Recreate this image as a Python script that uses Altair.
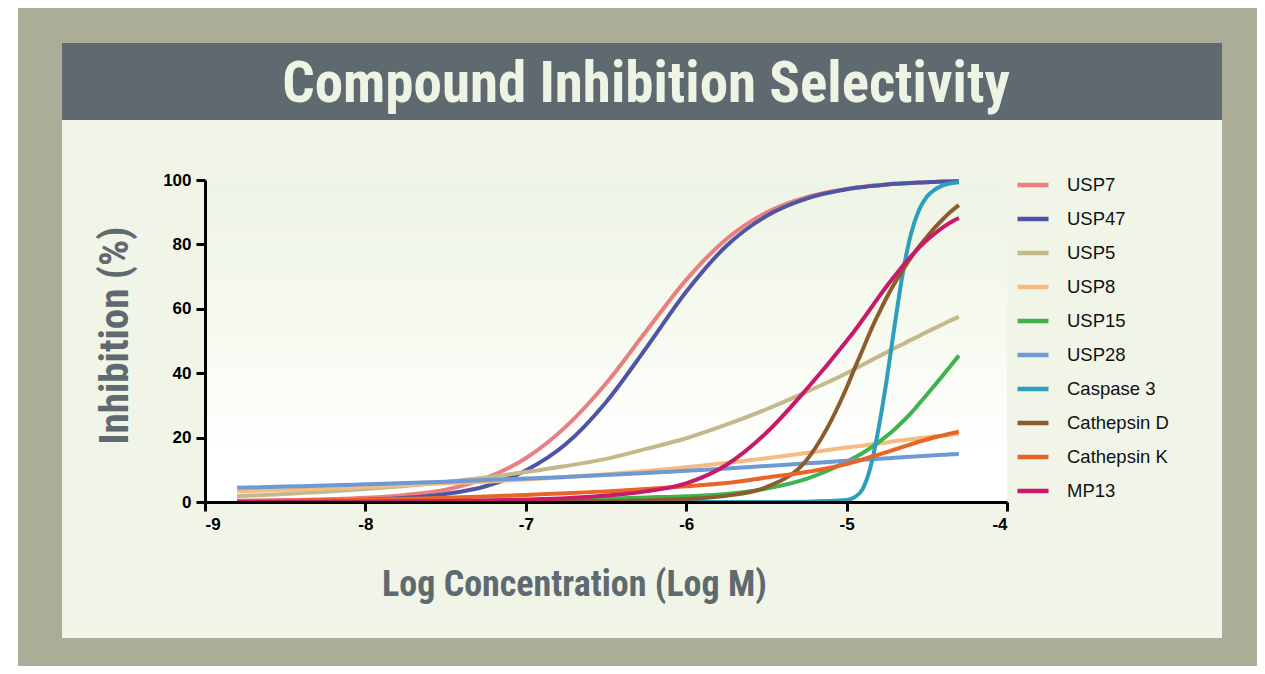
import altair as alt
import pandas as pd

# ---------------- data ----------------
LOGC = [-8.8, -8.5, -8.2, -8.0, -7.75, -7.5, -7.25, -7.0, -6.75, -6.5, -6.25, -6.0, -5.75, -5.5, -5.25,
        -5.0, -4.95, -4.9, -4.85, -4.8, -4.75, -4.7, -4.65, -4.6, -4.55, -4.5, -4.45, -4.4, -4.35, -4.3]

USP7 = [0.4, 0.6, 0.9, 1.3, 2.2, 3.8, 7.4, 13.6, 23.4, 36.8, 53.0, 69.0, 81.6, 89.9, 94.7,
        97.2, 97.6, 97.9, 98.2, 98.4, 98.6, 98.8, 99.0, 99.1, 99.2, 99.3, 99.4, 99.5, 99.55, 99.6]
USP47 = [0.1, 0.2, 0.4, 0.7, 1.3, 2.5, 4.9, 9.8, 18.0, 31.0, 47.8, 65.3, 79.5, 88.8, 94.2,
         97.1, 97.5, 97.8, 98.1, 98.3, 98.6, 98.8, 98.9, 99.1, 99.2, 99.3, 99.4, 99.5, 99.55, 99.6]
USP5 = [1.8, 2.5, 3.3, 4.0, 5.0, 6.2, 7.6, 9.3, 11.2, 13.4, 16.5, 19.8, 24.0, 28.8, 34.2,
        40.0, 41.3, 42.6, 43.9, 45.2, 46.5, 47.8, 49.0, 50.3, 51.5, 52.8, 54.0, 55.2, 56.4, 57.5]
USP8 = [3.3, 3.8, 4.3, 4.7, 5.2, 5.8, 6.3, 7.0, 7.8, 8.6, 9.6, 10.8, 12.1, 13.6, 15.2,
        16.9, 17.2, 17.5, 17.9, 18.2, 18.5, 18.9, 19.2, 19.5, 19.8, 20.1, 20.4, 20.6, 20.9, 21.1]
USP15 = [0.0, 0.0, 0.1, 0.1, 0.1, 0.2, 0.3, 0.5, 0.7, 1.0, 1.4, 1.8, 2.5, 4.2, 7.2,
         12.5, 13.8, 15.2, 16.8, 18.6, 20.5, 22.6, 25.0, 27.5, 30.4, 33.3, 36.3, 39.3, 42.4, 45.5]
USP28 = [4.4, 4.8, 5.2, 5.5, 5.9, 6.3, 6.8, 7.3, 7.8, 8.4, 9.0, 9.7, 10.4, 11.2, 12.0,
         12.8, 12.95, 13.1, 13.25, 13.4, 13.6, 13.75, 13.9, 14.05, 14.2, 14.35, 14.5, 14.65, 14.8, 14.9]
CASPASE3 = [0.0, 0.0, 0.0, 0.0, 0.0, 0.0, 0.0, 0.0, 0.0, 0.0, 0.0, 0.0, 0.0, 0.0, 0.1,
            0.6, 1.5, 4.0, 11.0, 23.0, 38.0, 55.0, 71.0, 83.0, 90.5, 94.8, 97.0, 98.3, 99.0, 99.3]
CATHEPSIN_D = [0.0, 0.0, 0.0, 0.0, 0.0, 0.1, 0.1, 0.1, 0.2, 0.3, 0.5, 0.9, 1.9, 4.6, 13.0,
               35.5, 41.5, 47.3, 53.2, 58.5, 63.5, 68.0, 72.0, 75.8, 79.2, 82.3, 85.2, 87.8, 90.2, 92.2]
CATHEPSIN_K = [0.3, 0.4, 0.6, 0.7, 1.0, 1.3, 1.7, 2.2, 2.7, 3.3, 4.0, 4.9, 5.9, 7.6, 9.3,
               11.8, 12.5, 13.2, 14.0, 14.7, 15.5, 16.3, 17.1, 17.9, 18.7, 19.4, 20.1, 20.7, 21.3, 21.8]
MP13 = [0.0, 0.0, 0.1, 0.1, 0.2, 0.3, 0.5, 0.8, 1.2, 2.0, 3.3, 5.8, 11.5, 21.5, 35.0,
        50.0, 53.2, 56.6, 60.1, 63.6, 67.0, 70.2, 73.3, 76.2, 78.9, 81.3, 83.4, 85.3, 86.9, 88.2]

SERIES = ["USP7", "USP47", "USP5", "USP8", "USP15", "USP28",
          "Caspase 3", "Cathepsin D", "Cathepsin K", "MP13"]
VALUES = [USP7, USP47, USP5, USP8, USP15, USP28, CASPASE3, CATHEPSIN_D, CATHEPSIN_K, MP13]
COLORS = ["#e97f7f", "#4f55a5", "#c3b98a", "#f6bb82", "#3fb34f", "#6e9ad4",
          "#2b9fbb", "#8c5c2c", "#e96429", "#c71a68"]

X_TICKS = [-9, -8, -7, -6, -5, -4]
Y_TICKS = [0, 20, 40, 60, 80, 100]

TITLE = "Compound Inhibition Selectivity"
X_TITLE = "Log Concentration (Log M)"
Y_TITLE = "Inhibition (%)"

rows = []
for name, vals in zip(SERIES, VALUES):
    for xv, yv in zip(LOGC, vals):
        rows.append({"series": name, "logc": xv, "inhibition": yv})
df = pd.DataFrame(rows)

COND = "Roboto Condensed, DejaVu Sans Condensed, sans-serif"
SANS = "Liberation Sans, Arial, Helvetica, sans-serif"
SLATE = "#5e6a6f"

one = alt.Data(values=[{"k": 1}])

# ---------------- decorative background ----------------
khaki = alt.Chart(one).mark_rect(color="#abad99").encode(
    x=alt.value(-187), x2=alt.value(1053), y=alt.value(-175), y2=alt.value(500))
panel = alt.Chart(one).mark_rect(color="#f0f5e8").encode(
    x=alt.value(-143), x2=alt.value(1017), y=alt.value(-137), y2=alt.value(458))
banner = alt.Chart(one).mark_rect(color=SLATE).encode(
    x=alt.value(-143), x2=alt.value(1017), y=alt.value(-137), y2=alt.value(-60))
plotbg = alt.Chart(one).mark_rect(
    fill=alt.LinearGradient(
        gradient="linear", x1=0, x2=0, y1=0, y2=1,
        stops=[alt.GradientStop(offset=0, color="#eef4e5"),
               alt.GradientStop(offset=0.5, color="#f7faf1"),
               alt.GradientStop(offset=0.85, color="#ffffff"),
               alt.GradientStop(offset=1, color="#ffffff")])
).encode(x=alt.value(0), x2=alt.value(802), y=alt.value(0), y2=alt.value(322))

title = alt.Chart(one).mark_text(
    text=TITLE, font=COND, fontSize=57, fontWeight="bold", color="#eef4e3",
    align="center", baseline="alphabetic"
).encode(x=alt.value(441), y=alt.value(-78))

# ---------------- curves ----------------
lines = alt.Chart(df).mark_line(strokeWidth=4, interpolate="monotone").encode(
    x=alt.X("logc:Q",
            scale=alt.Scale(domain=[-9, -4], nice=False, zero=False),
            axis=alt.Axis(values=X_TICKS, labelExpr="'' + datum.value",
                          title=X_TITLE, titleX=369, titleY=93, titleAlign="center",
                          titleBaseline="alphabetic", titleFont=COND, titleFontSize=36,
                          titleFontWeight="bold", titleColor=SLATE,
                          labelFont=SANS, labelFontSize=17, labelFontWeight="bold",
                          labelColor="black", labelPadding=5, tickSize=9, tickWidth=3,
                          tickColor="black", domainColor="black", domainWidth=3,
                          grid=False, zindex=1)),
    y=alt.Y("inhibition:Q",
            scale=alt.Scale(domain=[0, 100], nice=False),
            axis=alt.Axis(values=Y_TICKS, title=Y_TITLE, titleX=-78, titleY=155,
                          titleAngle=270, titleAlign="center", titleBaseline="alphabetic",
                          titleFont=COND, titleFontSize=41, titleFontWeight="bold",
                          titleColor=SLATE,
                          labelFont=SANS, labelFontSize=17, labelFontWeight="bold",
                          labelColor="black", labelPadding=5, tickSize=9, tickWidth=3,
                          tickColor="black", domainColor="black", domainWidth=3,
                          grid=False, zindex=1)),
    color=alt.Color("series:N",
                    scale=alt.Scale(domain=SERIES, range=COLORS),
                    legend=alt.Legend(orient="none", legendX=810, legendY=-13, title=None,
                                      symbolType="stroke", symbolSize=961,
                                      symbolStrokeWidth=4.5, labelFont=SANS,
                                      labelFontSize=18.5, labelColor="#111111",
                                      labelOffset=16, rowPadding=6, padding=0, zindex=1)),
)

chart = alt.layer(khaki, panel, banner, plotbg, title, lines).properties(
    width=802, height=322,
    padding={"left": 197, "top": 172, "right": 250, "bottom": 164},
    autosize=alt.AutoSizeParams(type="none"),
    background="white",
).configure_view(strokeWidth=0)

chart.save("out.html", embed_options={"renderer": "svg", "actions": False})
